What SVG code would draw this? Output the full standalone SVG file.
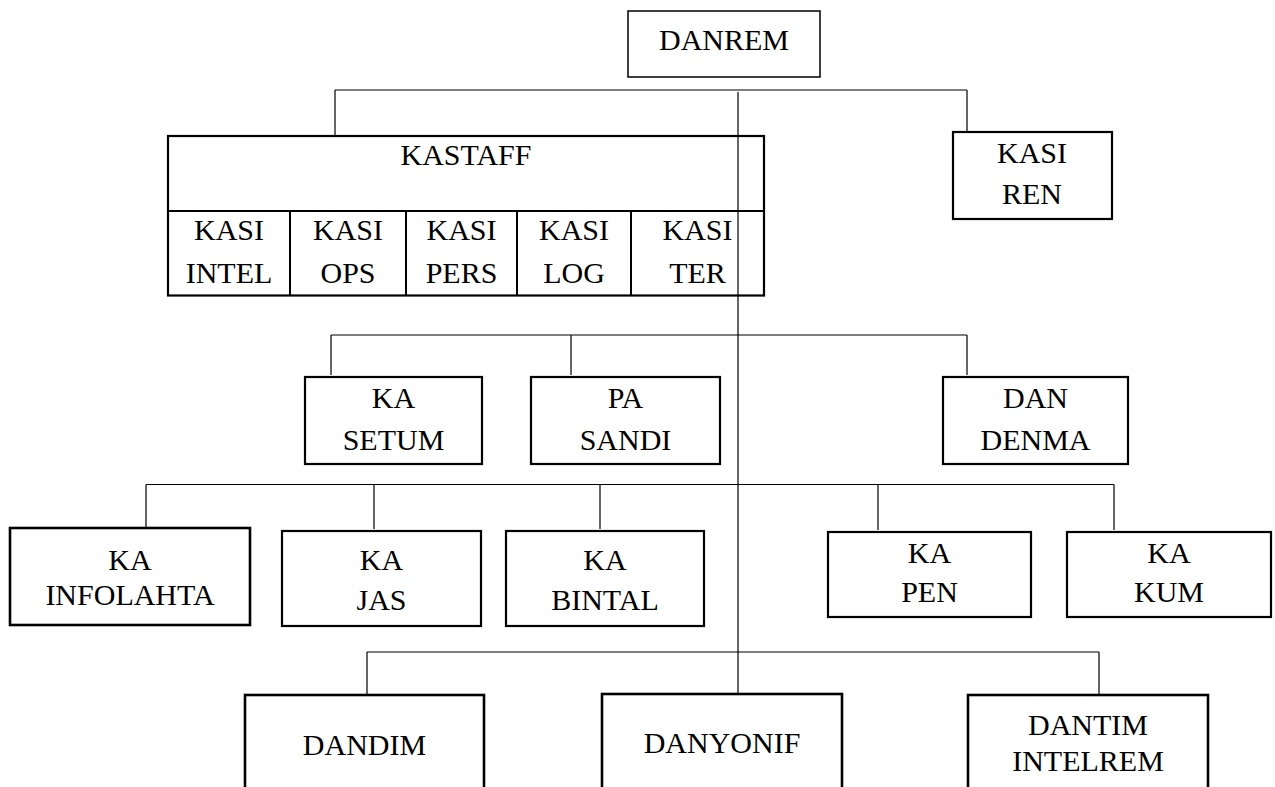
<svg xmlns="http://www.w3.org/2000/svg" width="1275" height="787" viewBox="0 0 1275 787">
<style>
.box{fill:#fff;stroke:#000;stroke-width:2.2}
.thin{fill:#fff;stroke:#000;stroke-width:1.5}
.ln{stroke:#000;stroke-width:1.2;fill:none}
.t{font-family:'Liberation Serif','DejaVu Serif','Times New Roman',serif;font-size:30px;fill:#000;text-anchor:middle}
</style>
<rect width="1275" height="787" fill="#fff"/>
<g id="connectors">
<path class="ln" d="M335 90H967M335 90V137M967 90V132"/>
<path class="ln" d="M331 335H967M331 335V375M571 335V375M967 335V375"/>
<path class="ln" d="M146 484.5H1114M146 484.5V527M374 484.5V529M600 484.5V529M878 484.5V530M1114 484.5V530"/>
<path class="ln" d="M367 652H1099M367 652V694M1099 652V694"/>
</g>
<g class="t" font-family="Liberation Serif, DejaVu Serif, serif">
<g id="danrem"><rect class="thin" x="628" y="11" width="192" height="66"/><text x="724" y="50">DANREM</text></g>
<g id="kastaff">
<rect class="box" x="168" y="136" width="596" height="159.5"/>
<path class="ln" style="stroke-width:2" d="M168 211H764M290 211V295.5M406 211V295.5M517 211V295.5M631 211V295.5"/>
<text x="466" y="165">KASTAFF</text>
<text x="229" y="240">KASI</text><text x="229" y="283">INTEL</text>
<text x="348" y="240">KASI</text><text x="348" y="283">OPS</text>
<text x="461.5" y="240">KASI</text><text x="461.5" y="283">PERS</text>
<text x="574" y="240">KASI</text><text x="574" y="283">LOG</text>
<text x="697.5" y="240">KASI</text><text x="697.5" y="283">TER</text>
</g>
<g id="kasiren"><rect class="box" x="953" y="132" width="159" height="87"/><text x="1032" y="163">KASI</text><text x="1032" y="204">REN</text></g>
<g id="kasetum"><rect class="box" x="305" y="377" width="177" height="87"/><text x="393.5" y="408">KA</text><text x="393.5" y="450">SETUM</text></g>
<g id="pasandi"><rect class="box" x="531" y="377" width="189" height="87"/><text x="625.5" y="408">PA</text><text x="625.5" y="450">SANDI</text></g>
<g id="dandenma"><rect class="box" x="943" y="377" width="185" height="87"/><text x="1035.5" y="408">DAN</text><text x="1035.5" y="450">DENMA</text></g>
<g id="kainfolahta"><rect class="box" x="10" y="528" width="240" height="97" style="stroke-width:2.6"/><text x="130" y="570">KA</text><text x="130" y="605">INFOLAHTA</text></g>
<g id="kajas"><rect class="box" x="282" y="531" width="199" height="95"/><text x="381.5" y="570">KA</text><text x="381.5" y="610">JAS</text></g>
<g id="kabintal"><rect class="box" x="506" y="531" width="198" height="95"/><text x="605" y="570">KA</text><text x="605" y="610">BINTAL</text></g>
<g id="kapen"><rect class="box" x="828" y="532" width="203" height="85"/><text x="929.5" y="563">KA</text><text x="929.5" y="602">PEN</text></g>
<g id="kakum"><rect class="box" x="1067" y="532" width="204" height="85"/><text x="1169" y="563">KA</text><text x="1169" y="602">KUM</text></g>
<g id="dandim"><rect class="box" x="245" y="695" width="239" height="110" style="stroke-width:2.6"/><text x="364.5" y="755">DANDIM</text></g>
<g id="danyonif"><rect class="box" x="602" y="694" width="240" height="110" style="stroke-width:2.6"/><text x="722" y="753">DANYONIF</text></g>
<g id="dantim"><rect class="box" x="968" y="695" width="240" height="110" style="stroke-width:2.6"/><text x="1088" y="735">DANTIM</text><text x="1088" y="771">INTELREM</text></g>
</g>
<g id="main-line"><path class="ln" d="M738 92V694"/></g>
</svg>
